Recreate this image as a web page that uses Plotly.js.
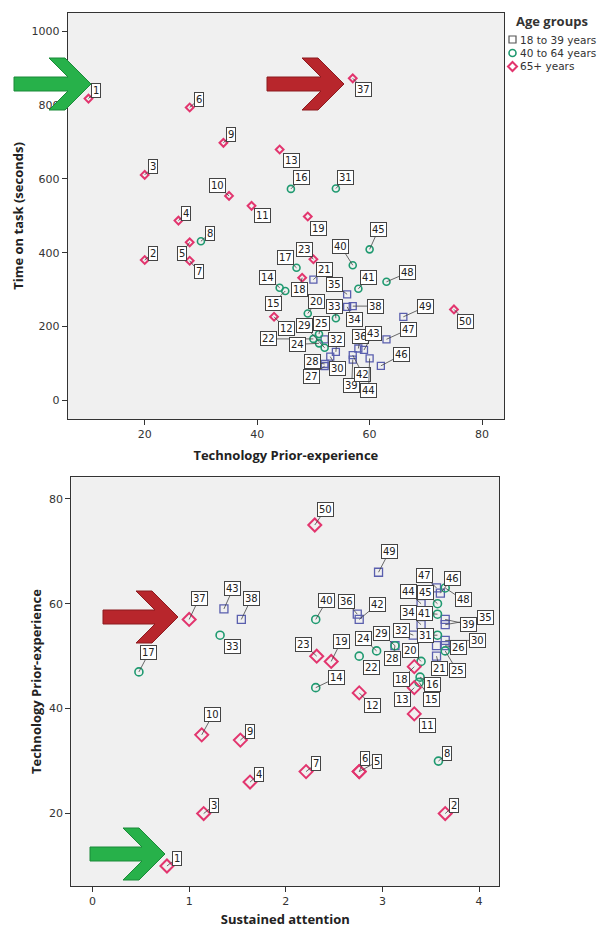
<!DOCTYPE html>
<html><head><meta charset="utf-8">
<script src="https://cdn.plot.ly/plotly-3.0.1.min.js"></script>
<style>html,body{margin:0;padding:0;background:#fff}#chart{width:600px;height:928px}</style>
</head><body><div id="chart"></div>
<script>
// ---------------- data ----------------
const participantIds = [1,2,3,4,5,6,7,8,9,10,11,12,13,14,15,16,17,18,19,20,21,22,23,24,25,26,27,28,29,30,31,32,33,34,35,36,37,38,39,40,41,42,43,44,45,46,47,48,49,50];
// 0 = 18 to 39 years, 1 = 40 to 64 years, 2 = 65+ years
const ageGroup = [2,2,2,2,2,2,2,1,2,2,2,2,2,1,1,1,1,2,2,1,0,1,2,1,1,0,0,0,1,0,1,0,1,0,0,0,2,0,0,1,1,0,0,0,1,0,0,1,0,2];
const techExperience = [10,20,20,26,28,28,28,30,34,35,39,43,44,44,45,46,47,48,49,49,50,50,50,51,51,52,52,52,52,53,54,54,54,56,56,58,57,57,57,57,58,57,59,60,60,62,63,63,66,75];
const timeOnTask = [818,380,611,487,428,794,378,431,698,554,527,226,680,305,296,573,359,332,498,235,327,166,382,154,179,165,92,98,142,118,574,131,222,253,287,140,873,255,110,366,302,122,136,113,409,93,165,321,226,246];
const sustainedAttention = [0.77,3.65,1.15,1.63,2.76,2.76,2.21,3.58,1.53,1.13,3.33,2.76,3.33,2.31,3.38,3.39,0.48,3.33,2.47,3.40,3.56,2.76,2.32,2.94,3.65,3.65,3.56,3.13,3.13,3.65,3.57,3.32,1.32,3.40,3.65,2.74,1.00,1.54,3.65,2.31,3.57,2.76,1.36,3.40,3.57,3.60,3.56,3.65,2.96,2.30];
const groupNames = ['18 to 39 years','40 to 64 years','65+ years'];
const legendTitle = 'Age groups';
const xTitleTop = 'Technology Prior-experience';
const yTitleTop = 'Time on task (seconds)';
const xTitleBottom = 'Sustained attention';
const yTitleBottom = 'Technology Prior-experience';

// ---------------- styles ----------------
const groupColors = ['#5a5fae','#1f9a70','#e2356e'];
const groupSymbols = ['square-open','circle-open','diamond-open'];
const topSizes = [7,7,6], bottomSizes = [8,8,10];
const lineWidths = [1.3,1.6,2];
// label offsets (pixels, label centre relative to point)
const topLabelOffset = [[8,-8],[8,-7],[8,-8],[8,-7],[-8,11],[9,-8],[9,11],[9,-8],[8,-8],[-12,-10],[11,10],[12,12],[12,11],[-12,-10],[-12,12],[11,-11],[-11,-10],[-3,12],[11,12],[9,-12],[11,-10],[-45,0],[-9,-10],[-22,1],[2,-11],[13,1],[-13,10],[-12,-2],[-20,-22],[7,12],[10,-11],[1,-12],[-1,-12],[7,13],[-13,-10],[2,-12],[11,11],[23,0],[-1,26],[-12,-19],[10,-11],[10,19],[9,-16],[-1,32],[9,-20],[21,-11],[22,-10],[21,-9],[22,-10],[12,12]];
const bottomLabelOffset = [[10,-8],[9,-8],[10,-8],[9,-8],[18,-10],[6,-13],[10,-8],[9,-8],[10,-9],[11,-20],[13,12],[13,13],[-12,12],[21,-10],[12,17],[12,7],[10,-19],[-13,13],[10,-20],[-11,-11],[3,12],[12,11],[-13,-12],[-13,-12],[12,20],[13,2],[3,21],[-2,13],[-13,-12],[32,0],[-12,0],[-12,-5],[12,11],[-13,-12],[40,-7],[-11,-13],[10,-21],[10,-21],[23,5],[11,-19],[-13,-1],[18,-15],[9,-20],[-13,-12],[-12,-11],[12,-15],[-12,-12],[18,12],[11,-21],[11,-16]];
// labels hidden behind others in the reference
const hiddenTop = [26], hiddenBottom = [27];

const W = 600, H = 928;
const px = x => x / W, py = y => 1 - y / H;

// ---------------- traces ----------------
const traces = [];
[0,1,2].forEach(g => {
  const idx = participantIds.map((_, i) => i).filter(i => ageGroup[i] === g);
  traces.push({
    type:'scatter', mode:'markers', name: groupNames[g], showlegend:false,
    x: idx.map(i => techExperience[i]), y: idx.map(i => timeOnTask[i]),
    xaxis:'x', yaxis:'y', cliponaxis:false,
    marker:{symbol: groupSymbols[g], size: topSizes[g], color: groupColors[g], line:{width: lineWidths[g], color: groupColors[g]}},
    hoverinfo:'skip'
  });
  traces.push({
    type:'scatter', mode:'markers', name: groupNames[g], showlegend:false,
    x: idx.map(i => sustainedAttention[i]), y: idx.map(i => techExperience[i]),
    xaxis:'x2', yaxis:'y2', cliponaxis:false,
    marker:{symbol: groupSymbols[g], size: bottomSizes[g], color: groupColors[g], line:{width: lineWidths[g], color: groupColors[g]}},
    hoverinfo:'skip'
  });
});

// ---------------- point labels ----------------
function label(i, xv, yv, xref, yref, off) {
  return {x: xv, y: yv, xref, yref, text: String(participantIds[i]),
    showarrow:true, arrowhead:0, arrowwidth:0.8, arrowcolor:'#444', standoff:0,
    ax: off[0], ay: off[1], bgcolor:'#ffffff', bordercolor:'#444', borderwidth:1, borderpad:1,
    font:{family:'DejaVu Sans', size:10, color:'#222'}};
}
const annotations = [];
participantIds.forEach((id, i) => {
  if (!hiddenTop.includes(id)) annotations.push(label(i, techExperience[i], timeOnTask[i], 'x', 'y', topLabelOffset[i]));
  if (!hiddenBottom.includes(id)) annotations.push(label(i, sustainedAttention[i], techExperience[i], 'x2', 'y2', bottomLabelOffset[i]));
});

// ---------------- legend (drawn manually) ----------------
annotations.push({xref:'paper', yref:'paper', x: px(514), y: py(21), xanchor:'left', yanchor:'middle', showarrow:false,
  text: legendTitle, font:{family:'Open Sans', size:13, weight:'bold', color:'#333'}});
const legendY = [39.5, 53, 66.5];
groupNames.forEach((n, g) => {
  annotations.push({xref:'paper', yref:'paper', x: px(518), y: py(legendY[g]), xanchor:'left', yanchor:'middle', showarrow:false,
    text: n, font:{family:'DejaVu Sans', size:10.5, color:'#333'}});
});

// ---------------- shapes: legend symbols + arrows ----------------
function pathPx(pts) { return 'M ' + pts.map(p => px(p[0]) + ',' + py(p[1])).join(' L ') + ' Z'; }
function arrow(x0, yc, len, col, edge) {
  // chunky chevron arrow, pixel geometry
  const h = 7, tip = x0 + len, arm = 26, w = 16;
  return {type:'path', xref:'paper', yref:'paper', layer:'above', fillcolor: col, line:{color: edge, width:1},
    path: pathPx([[x0,yc-h],[tip-w-h,yc-h],[tip-w-arm,yc-arm],[tip-arm,yc-arm],[tip,yc],[tip-arm,yc+arm],[tip-w-arm,yc+arm],[tip-w-h,yc+h],[x0,yc+h]])};
}
const lx = 512.5;
const shapes = [
  {type:'rect', xref:'paper', yref:'paper', x0:px(lx-3.5), x1:px(lx+3.5), y0:py(legendY[0]-3.5), y1:py(legendY[0]+3.5), line:{color:'#555', width:1.2}},
  {type:'circle', xref:'paper', yref:'paper', x0:px(lx-3.5), x1:px(lx+3.5), y0:py(legendY[1]-3.5), y1:py(legendY[1]+3.5), line:{color:groupColors[1], width:1.6}},
  {type:'path', xref:'paper', yref:'paper', line:{color:groupColors[2], width:2},
    path: pathPx([[lx,legendY[2]-4.5],[lx+4.5,legendY[2]],[lx,legendY[2]+4.5],[lx-4.5,legendY[2]]])},
  arrow(14, 84, 77, '#27b14a', '#1a8a38'),
  arrow(267, 84, 77, '#b8262c', '#8c1a1f'),
  arrow(103, 617, 75, '#b8262c', '#8c1a1f'),
  arrow(90, 854, 75, '#27b14a', '#1a8a38')
];

// ---------------- axes ----------------
const tickFont = {family:'DejaVu Sans', size:11, color:'#333'};
const titleFont = {family:'Open Sans', size:13, weight:'bold', color:'#222'};
function axis(extra) {
  return Object.assign({showgrid:false, zeroline:false, showline:true, mirror:true, linecolor:'#333', linewidth:1,
    ticks:'outside', ticklen:5, tickcolor:'#333', tickfont: tickFont, fixedrange:true}, extra);
}
const layout = {
  width: W, height: H, autosize:false,
  margin:{l:0, r:0, t:0, b:0, pad:0},
  paper_bgcolor:'#ffffff', plot_bgcolor:'#f0f0f0',
  showlegend:false,
  xaxis: axis({domain:[0.1128,0.84], range:[6.3,83.9], tickvals:[20,40,60,80], anchor:'y',
    title:{text:xTitleTop, font:titleFont, standoff:10}}),
  yaxis: axis({domain:[0.5482,0.9863], range:[-52,1051], tickvals:[0,200,400,600,800,1000], anchor:'x',
    title:{text:yTitleTop, font:titleFont, standoff:4}}),
  xaxis2: axis({domain:[0.1188,0.8322], range:[-0.22,4.21], tickvals:[0,1,2,3,4], anchor:'y2',
    title:{text:xTitleBottom, font:titleFont, standoff:10}}),
  yaxis2: axis({domain:[0.0453,0.4857], range:[6.2,84.1], tickvals:[20,40,60,80], anchor:'x2',
    title:{text:yTitleBottom, font:titleFont, standoff:4}}),
  annotations, shapes
};
Plotly.newPlot('chart', traces, layout, {staticPlot:true, displayModeBar:false});
</script>
</body></html>
